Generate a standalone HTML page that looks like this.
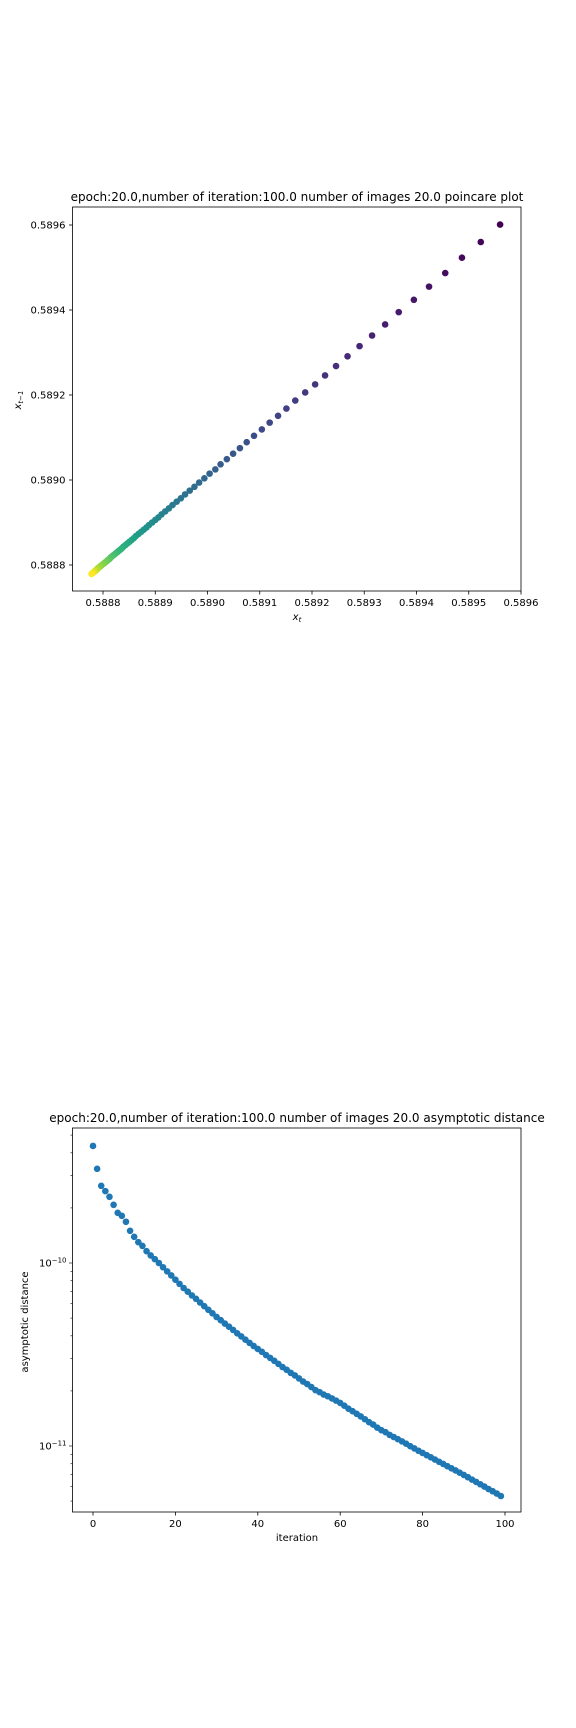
<!DOCTYPE html>
<html><head><meta charset="utf-8"><style>
html,body{margin:0;padding:0;background:#fff;}
svg{display:block;font-family:"DejaVu Sans","Liberation Sans",sans-serif;}
</style></head><body>
<svg id="fig" width="576" height="1728" viewBox="0 0 576 1728" xmlns="http://www.w3.org/2000/svg">
<rect width="576" height="1728" fill="#fff"/>
<g id="top"></g>
<g id="bot"></g>
</svg>
<script>
// ---- Poincare chart data: sequence x_t (successive iterates) ----
const seqValues = [0.589601,0.589560,0.589523,0.589487,0.589455,0.589424,0.589395,0.589366,0.589340,0.589315,0.589291,0.589268,0.589246,0.589225,0.589206,0.589187,0.589168,0.589151,0.589135,0.589119,0.589104,0.589089,0.589075,0.589062,0.589049,0.589037,0.589025,0.589015,0.589004,0.588994,0.588984,0.588975,0.588966,0.588957,0.588949,0.588941,0.588933,0.588926,0.588919,0.588912,0.588906,0.588900,0.588894,0.588888,0.588883,0.588878,0.588873,0.588868,0.588863,0.588859,0.588855,0.588851,0.588847,0.588843,0.588839,0.588836,0.588833,0.588830,0.588827,0.588824,0.588821,0.588818,0.588815,0.588813,0.588811,0.588809,0.588807,0.588805,0.588803,0.588801,0.588799,0.588797,0.588795,0.588793,0.588791,0.588789,0.588788,0.588787,0.588786,0.588785,0.588784,0.588783,0.588782,0.588781,0.588780,0.588779,0.588778];
const topXTicks = [0.5888,0.5889,0.5890,0.5891,0.5892,0.5893,0.5894,0.5895,0.5896];
const topYTicks = [0.5888,0.5890,0.5892,0.5894,0.5896];
// ---- Asymptotic distance data ----
const iterations = Array.from({length:100},(_,i)=>i);
const distValues = [4.36e-10,3.27e-10,2.64e-10,2.47e-10,2.30e-10,2.08e-10,1.88e-10,1.81e-10,1.68e-10,1.50e-10,
1.39e-10,1.30e-10,1.24e-10,1.16e-10,1.10e-10,1.05e-10,1.00e-10,9.48e-11,9.00e-11,8.55e-11,
8.11e-11,7.69e-11,7.30e-11,6.97e-11,6.65e-11,6.37e-11,6.08e-11,5.81e-11,5.55e-11,5.31e-11,
5.07e-11,4.87e-11,4.67e-11,4.49e-11,4.31e-11,4.13e-11,3.97e-11,3.81e-11,3.66e-11,3.52e-11,
3.39e-11,3.27e-11,3.14e-11,3.03e-11,2.92e-11,2.81e-11,2.70e-11,2.61e-11,2.51e-11,2.43e-11,
2.34e-11,2.25e-11,2.18e-11,2.10e-11,2.02e-11,1.97e-11,1.91e-11,1.87e-11,1.82e-11,1.77e-11,
1.72e-11,1.66e-11,1.60e-11,1.55e-11,1.50e-11,1.45e-11,1.40e-11,1.35e-11,1.31e-11,1.26e-11,
1.22e-11,1.19e-11,1.15e-11,1.12e-11,1.09e-11,1.06e-11,1.03e-11,9.98e-12,9.70e-12,9.42e-12,
9.16e-12,8.91e-12,8.67e-12,8.43e-12,8.20e-12,7.98e-12,7.76e-12,7.55e-12,7.35e-12,7.15e-12,
6.95e-12,6.75e-12,6.55e-12,6.36e-12,6.18e-12,6.00e-12,5.82e-12,5.66e-12,5.50e-12,5.33e-12];
const botXTicks = [0,20,40,60,80,100];

const NS="http://www.w3.org/2000/svg";
function mk(parent,tag,attrs,text){const e=document.createElementNS(NS,tag);for(const k in attrs)e.setAttribute(k,attrs[k]);if(text!==undefined)e.textContent=text;parent.appendChild(e);return e;}
const viridis=[[68,1,84],[72,40,120],[62,74,137],[49,104,142],[38,130,142],[31,158,137],[53,183,121],[109,205,89],[180,222,44],[253,231,37]];
function vcol(t){t=Math.max(0,Math.min(1,t))*9;const i=Math.min(8,Math.floor(t)),f=t-i;const a=viridis[i],b=viridis[i+1];return `rgb(${a.map((v,k)=>Math.round(v+(b[k]-v)*f)).join(',')})`;}

// ===== Top chart =====
(function(){
const g=document.getElementById('top');
const L=72.5,R=521,T=207,B=591;
const xs=v=>103+(v-0.5888)/0.0001*52.25;
const ys=v=>565-(v-0.5888)/0.0002*85;
let t=mk(g,'text',{x:297,y:201,'text-anchor':'middle','font-size':'12',fill:'#000'},'epoch:20.0,number of iteration:100.0 number of images 20.0 poincare plot');

const n=seqValues.length-1;
for(let k=0;k<n;k++){
  const c=mk(g,'circle',{cx:xs(seqValues[k+1]),cy:ys(seqValues[k]),r:3.3,fill:vcol(k/(n-1))});
  
  
}
const fr=mk(g,'rect',{x:L,y:T,width:R-L,height:B-T,fill:'none',stroke:'#000','stroke-width':0.8});

topXTicks.forEach(v=>{const x=xs(v);mk(g,'line',{x1:x,x2:x,y1:B,y2:B+3.5,stroke:'#000','stroke-width':0.8});
  const l=mk(g,'text',{x:x,y:B+15,'text-anchor':'middle','font-size':'10'},v.toFixed(4));
  });
topYTicks.forEach(v=>{const y=ys(v);mk(g,'line',{x1:L,x2:L-3.5,y1:y,y2:y,stroke:'#000','stroke-width':0.8});
  const l=mk(g,'text',{x:L-7,y:y+3.6,'text-anchor':'end','font-size':'10'},v.toFixed(4));
  });
const xl=mk(g,'text',{x:297,y:620,'text-anchor':'middle','font-size':'10','font-style':'italic'});
xl.innerHTML='x<tspan font-size="7" dy="2">t</tspan>';

const yl=mk(g,'text',{x:0,y:0,'text-anchor':'middle','font-size':'10','font-style':'italic',transform:'translate(21,400) rotate(-90)'});
yl.innerHTML='x<tspan font-size="7" dy="2">t−1</tspan>';

})();

// ===== Bottom chart =====
(function(){
const g=document.getElementById('bot');
const L=72.5,R=521,T=1128,B=1512;
const xs=v=>93+v*4.12;
const ys=v=>1263-(Math.log10(v)+10)*183;
let t=mk(g,'text',{x:297,y:1122,'text-anchor':'middle','font-size':'12'},'epoch:20.0,number of iteration:100.0  number of images 20.0 asymptotic distance');

distValues.forEach((v,i)=>{
  const c=mk(g,'circle',{cx:xs(iterations[i]),cy:ys(v),r:3.3,fill:'#1f77b4'});
  
  
});
const fr=mk(g,'rect',{x:L,y:T,width:R-L,height:B-T,fill:'none',stroke:'#000','stroke-width':0.8});

botXTicks.forEach(v=>{const x=xs(v);mk(g,'line',{x1:x,x2:x,y1:B,y2:B+3.5,stroke:'#000','stroke-width':0.8});
  const l=mk(g,'text',{x:x,y:B+15,'text-anchor':'middle','font-size':'10'},String(v));
  });
for(let e=-12;e<=-10;e++){for(let m=1;m<10;m++){const v=m*Math.pow(10,e);const y=ys(v);if(y<T||y>B)continue;
  mk(g,'line',{x1:L,x2:L-(m===1?3.5:2),y1:y,y2:y,stroke:'#000','stroke-width':0.6});
  if(m===1){const l=mk(g,'text',{x:L-6,y:y+3.6,'text-anchor':'end','font-size':'10'});
    l.innerHTML='10<tspan font-size="7" dy="-4">−'+(-e)+'</tspan>';
    }}}
const xl=mk(g,'text',{x:297,y:1541,'text-anchor':'middle','font-size':'10'},'iteration');

const yl=mk(g,'text',{x:0,y:0,'text-anchor':'middle','font-size':'10',transform:'translate(28,1322) rotate(-90)'},'asymptotic distance');

})();
</script>
</body></html>
